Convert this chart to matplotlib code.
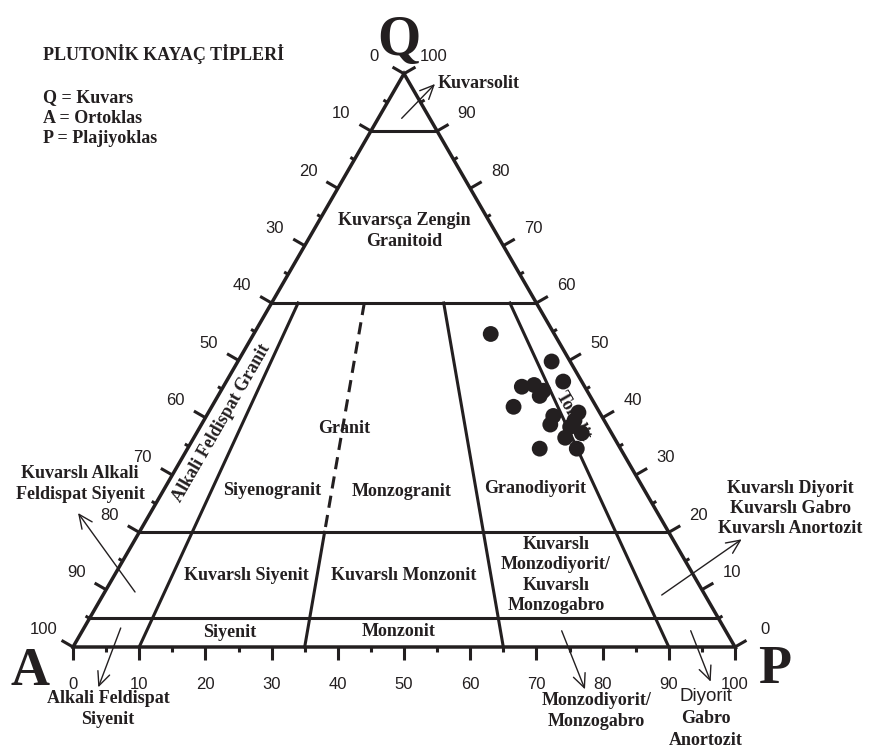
#!/usr/bin/env python3

import numpy as np
import matplotlib
matplotlib.use('Agg')
import matplotlib.pyplot as plt

SQ3 = np.sqrt(3.0)
SCALE = 6.62  # pixels per ternary unit (base of triangle = 100 units)

# modal compositions (%): quartz, alkali feldspar, plagioclase
q_vals = [54.6, 49.8, 46.3, 45.4, 45.7, 43.8, 44.7, 41.9, 40.3,
          40.9, 39.5, 38.8, 38.4, 37.3, 36.5, 34.6, 34.6]
a_vals = [9.6, 2.8, 2.8, 9.5, 7.5, 7.6, 6.6, 12.5, 7.3,
          3.2, 4.5, 8.5, 5.7, 4.5, 7.4, 12.2, 6.6]
p_vals = [35.8, 47.4, 50.9, 45.1, 46.8, 48.6, 48.7, 45.6, 52.4,
          55.9, 56.0, 52.7, 55.9, 58.2, 56.1, 53.2, 58.8]

# Streckeisen field boundaries
q_levels = [90, 60, 20, 5]
p_ratios = [0.10, 0.35, 0.65, 0.90]
tick_steps = np.arange(0, 101, 5)

SERIF = 'Liberation Serif'
SANS = 'Liberation Sans'
ink = '#231f20'


def tern(q, a, p):
    q = np.asarray(q, dtype=float)
    a = np.asarray(a, dtype=float)
    p = np.asarray(p, dtype=float)
    s = q + a + p
    q, p = q / s * 100, p / s * 100
    return p + q / 2, q * SQ3 / 2


def ratio_line(r, q0, q1):
    q = np.array([q0, q1], dtype=float)
    return tern(q, (100 - q) * (1 - r), (100 - q) * r)


def label(x, y, s, **kw):
    opts = dict(family=SERIF, weight='bold', fontsize=13, ha='center',
                va='center', color=ink)
    opts.update(kw)
    ax.text(x, y, s, **opts)


def arrow(tail, head):
    ax.annotate('', xy=head, xytext=tail,
                arrowprops=dict(arrowstyle='->,head_length=0.55,head_width=0.25',
                                lw=1.0, color=ink, shrinkA=0, shrinkB=0,
                                mutation_scale=18))


fig = plt.figure(figsize=(8.71, 7.56), dpi=100)
ax = fig.add_axes([0, 0, 1, 1])
ax.set_xlim(-73 / SCALE, (871 - 73) / SCALE)
ax.set_ylim(-(756 - 647) / SCALE, 647 / SCALE)
ax.axis('off')

# outer triangle
ox, oy = tern([0, 0, 100, 0], [100, 0, 0, 100], [0, 100, 0, 0])
ax.plot(ox, oy, color=ink, lw=2.5, solid_joinstyle='miter', zorder=3)

# horizontal quartz levels
for ql in q_levels:
    x, y = tern([ql, ql], [100 - ql, 0], [0, 100 - ql])
    ax.plot(x, y, color=ink, lw=2.2, zorder=3)

# P/(A+P) boundaries
for r in p_ratios:
    if r == 0.35:
        x, y = ratio_line(r, 20, 0)
        ax.plot(x, y, color=ink, lw=2.2, zorder=3)
        x, y = ratio_line(r, 60, 20)
        ax.plot(x, y, color=ink, lw=2.2, dashes=(4.0, 2.4), zorder=3)
    else:
        x, y = ratio_line(r, 60, 0)
        ax.plot(x, y, color=ink, lw=2.2, zorder=3)

# ticks and tick labels on the three sides
major_len, minor_len, lab_off = 2.0, 0.7, 5.2
n_left = np.array([-SQ3 / 2, 0.5])
n_right = np.array([SQ3 / 2, 0.5])
n_bottom = np.array([0.0, -1.0])
for v in tick_steps:
    major = v % 10 == 0
    ln = major_len if major else minor_len
    # left side (A-Q)
    x0, y0 = tern(v, 100 - v, 0)
    ax.plot([x0, x0 + n_left[0] * ln], [y0, y0 + n_left[1] * ln],
            color=ink, lw=2.2, solid_capstyle='butt')
    if major:
        ax.text(x0 + n_left[0] * lab_off, y0 + n_left[1] * lab_off,
                str(100 - v), family=SANS, fontsize=12, ha='center',
                va='center', color=ink)
    # right side (P-Q)
    x0, y0 = tern(v, 0, 100 - v)
    ax.plot([x0, x0 + n_right[0] * ln], [y0, y0 + n_right[1] * ln],
            color=ink, lw=2.2, solid_capstyle='butt')
    if major:
        ax.text(x0 + n_right[0] * lab_off, y0 + n_right[1] * lab_off,
                str(v), family=SANS, fontsize=12, ha='center',
                va='center', color=ink)
    # bottom (A-P)
    x0, y0 = tern(0, 100 - v, v)
    ax.plot([x0, x0 + n_bottom[0] * ln], [y0, y0 + n_bottom[1] * ln],
            color=ink, lw=2.2, solid_capstyle='butt')
    if major:
        ax.text(x0, y0 - lab_off - 0.4, str(v), family=SANS, fontsize=12,
                ha='center', va='center', color=ink)

# corner letters
label(49.3, 89.4, 'Q', fontsize=40, va='baseline')
label(-6.57, -5.74, 'A', fontsize=39, va='baseline')
label(106.0, -5.44, 'P', fontsize=39, va='baseline')

# header and legend
label(-4.53, 88.6, 'PLUTONİK KAYAÇ TİPLERİ', ha='left', va='baseline')
label(-4.53, 82.3, 'Q = Kuvars', ha='left', va='baseline')
label(-4.53, 79.2, 'A = Ortoklas', ha='left', va='baseline')
label(-4.53, 76.1, 'P = Plajiyoklas', ha='left', va='baseline')

# field names
label(50.0, 62.84, 'Kuvarsça Zengin\nGranitoid', linespacing=1.25)
label(22.5, 33.84, 'Alkali Feldispat Granit', rotation=60,
      rotation_mode='anchor')
label(40.94, 33.08, 'Granit')
label(30.06, 23.61, 'Siyenogranit')
label(49.7, 23.56, 'Monzogranit')
label(69.79, 23.87, 'Granodiyorit')
label(75.6, 34.8, 'Tonalit', rotation=-60, rotation_mode='anchor',
      zorder=2)
label(26.24, 10.73, 'Kuvarslı Siyenit')
label(49.94, 10.73, 'Kuvarslı Monzonit')
label(72.96, 10.88, 'Kuvarslı\nMonzodiyorit/\nKuvarslı\nMonzogabro',
      linespacing=1.25)
label(23.72, 2.22, 'Siyenit')
label(49.14, 2.27, 'Monzonit')

# fields outside the triangle, with pointers
label(55.1, 84.4, 'Kuvarsolit', ha='left', va='baseline')
arrow((49.65, 79.86), (54.68, 85.05))

label(1.06, 24.62, 'Kuvarslı Alkali\nFeldispat Siyenit', linespacing=1.25)
arrow((9.37, 8.31), (0.76, 20.24))

label(5.29, -9.37, 'Alkali Feldispat\nSiyenit', linespacing=1.25)
arrow((7.21, 2.87), (3.82, -6.09))

label(79.08, -9.67, 'Monzodiyorit/\nMonzogabro', linespacing=1.25)
arrow((73.82, 2.45), (77.34, -6.39))

ax.text(95.62, -7.55, 'Diyorit', family=SANS, fontsize=13.5, ha='center',
        va='center', color=ink)
label(95.62, -10.73, 'Gabro')
label(95.62, -14.05, 'Anortozit')
arrow((93.31, 2.46), (96.33, -5.24))

label(108.31, 20.92, 'Kuvarslı Diyorit\nKuvarslı Gabro\nKuvarslı Anortozit',
      linespacing=1.25)
arrow((88.93, 7.85), (101.01, 16.27))

# samples
sx, sy = tern(q_vals, a_vals, p_vals)
ax.scatter(sx, sy, s=130, color=ink, edgecolors='none', zorder=5)

fig.savefig('out.png', dpi=100)
